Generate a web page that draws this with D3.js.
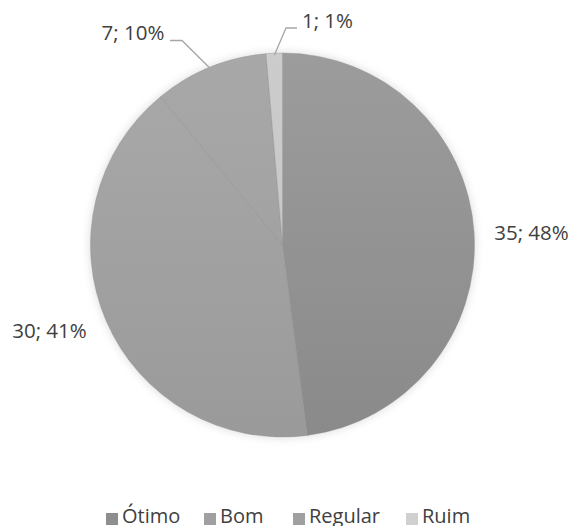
<!DOCTYPE html>
<html>
<head>
<meta charset="utf-8">
<script src="https://cdn.jsdelivr.net/npm/d3@7/dist/d3.min.js"></script>
<style>
  html, body { margin: 0; padding: 0; background: #fff; }
  svg { display: block; }
  text { font-family: "Open Sans", "Noto Sans", sans-serif; fill: #404040; }
</style>
</head>
<body>
<svg id="chart" width="572" height="526"></svg>
<script>
// Survey answers and their counts
const categories = ["Ótimo", "Bom", "Regular", "Ruim"];
const counts = [35, 30, 7, 1];
const percents = [48, 41, 10, 1];
const topColors = ["#9c9c9c", "#a9a9a9", "#a8a8a8", "#cccccc"];
const bottomColors = ["#8a8a8a", "#9a9a9a", "#9c9c9c", "#c4c4c4"];
const legendColors = ["#8e8e8e", "#a0a0a0", "#a0a0a0", "#d0d0d0"];

const svg = d3.select("#chart");
const cx = 282.5, cy = 245, r = 192;

const defs = svg.append("defs");
const shadow = defs.append("filter").attr("id", "soft")
  .attr("x", "-20%").attr("y", "-20%").attr("width", "140%").attr("height", "140%");
shadow.append("feGaussianBlur").attr("stdDeviation", 4);

categories.forEach((c, i) => {
  const g = defs.append("linearGradient").attr("id", "grad" + i)
    .attr("gradientUnits", "userSpaceOnUse")
    .attr("x1", 0).attr("y1", -r).attr("x2", 0).attr("y2", r);
  g.append("stop").attr("offset", "0%").attr("stop-color", topColors[i]);
  g.append("stop").attr("offset", "100%").attr("stop-color", bottomColors[i]);
});

const pie = d3.pie().sort(null).value(d => d)(counts);
const arc = d3.arc().innerRadius(0).outerRadius(r);

const root = svg.append("g").attr("transform", `translate(${cx},${cy})`);

// soft halo beneath the pie
root.append("circle").attr("r", r + 1).attr("fill", "#d8d8d8")
  .attr("filter", "url(#soft)").attr("opacity", 0.8);

root.selectAll("path.slice").data(pie).join("path")
  .attr("class", "slice")
  .attr("d", arc)
  .attr("fill", (d, i) => `url(#grad${i})`)
  .attr("stroke", "#8e8e8e")
  .attr("stroke-width", 0.4);

// value labels
const labelPos = [
  { x: 531.5, y: 233 },
  { x: 49.5, y: 330.5 },
  { x: 133, y: 32.5 },
  { x: 327.5, y: 20.5 }
];
svg.selectAll("text.val").data(pie).join("text")
  .attr("class", "val")
  .attr("x", (d, i) => labelPos[i].x)
  .attr("y", (d, i) => labelPos[i].y)
  .attr("dy", "0.35em")
  .attr("text-anchor", "middle")
  .attr("font-size", 20.5)
  .text((d, i) => `${counts[i]}; ${percents[i]}%`);

// leader lines for the two small slices, ending on their outer arc
const leader = (i, hx0, hx1, hy) => {
  const a = (pie[i].startAngle + pie[i].endAngle) / 2;
  const ex = cx + (r - 2) * Math.sin(a), ey = cy - (r - 2) * Math.cos(a);
  svg.append("polyline")
    .attr("points", `${hx0},${hy} ${hx1},${hy} ${ex},${ey}`)
    .attr("fill", "none").attr("stroke", "#a6a6a6").attr("stroke-width", 1.3);
};
leader(2, 170, 182, 40.5);
leader(3, 297, 286, 28);

// legend
const legendX = [106, 204, 293, 406];
const lg = svg.append("g");
categories.forEach((c, i) => {
  lg.append("rect").attr("x", legendX[i]).attr("y", 513).attr("width", 12).attr("height", 12)
    .attr("fill", legendColors[i]);
  lg.append("text").attr("x", legendX[i] + 16).attr("y", 523)
    .attr("font-size", 20).text(c);
});
</script>
</body>
</html>
